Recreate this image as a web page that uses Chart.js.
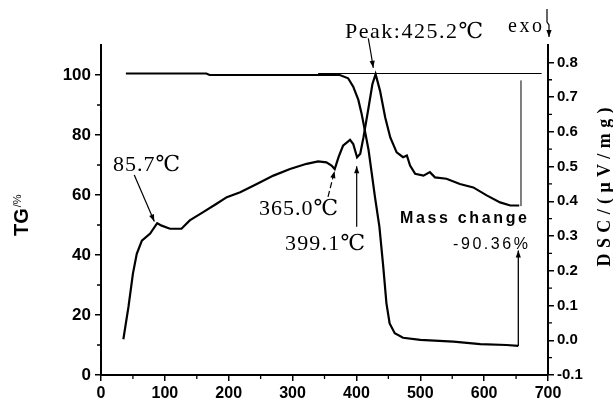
<!DOCTYPE html>
<html><head><meta charset="utf-8">
<script src="https://cdn.jsdelivr.net/npm/chart.js@4.4.0/dist/chart.umd.min.js"></script>
<style>html,body{margin:0;padding:0;background:#fff}canvas{display:block}</style>
</head><body>
<canvas id="c" width="613" height="405" style="width:613px;height:405px"></canvas>
<script>
// ---- data ----
const tgX = [39, 165, 170, 340, 374, 387, 395, 403, 408, 413, 419, 424, 429, 436, 442, 447, 452, 460, 473, 500, 552, 594, 635, 653.5];
const tgY = [100.5, 100.5, 100, 100, 100, 98.9, 96.1, 91.7, 87.2, 81.7, 75, 67.2, 59.4, 49.4, 36.1, 23.9, 17.2, 13.9, 12.4, 11.7, 11.1, 10.3, 10, 9.7];
const dscX = [35, 43, 50, 56, 64, 77, 82, 88, 95, 108, 126, 139, 160, 181, 197, 218, 244, 270, 296, 322, 340, 353, 361, 366, 372, 379, 390, 395, 401, 406, 411, 419, 425, 430, 437, 445, 453, 463, 473, 479, 484, 492, 505, 515, 523, 541, 562, 583, 604, 625, 641, 655];
const dscY = [0.003, 0.096, 0.192, 0.249, 0.287, 0.307, 0.321, 0.337, 0.33, 0.321, 0.321, 0.345, 0.369, 0.393, 0.412, 0.426, 0.45, 0.474, 0.493, 0.508, 0.515, 0.512, 0.503, 0.493, 0.527, 0.56, 0.577, 0.565, 0.527, 0.537, 0.584, 0.67, 0.737, 0.766, 0.718, 0.642, 0.584, 0.541, 0.527, 0.532, 0.503, 0.479, 0.474, 0.484, 0.469, 0.465, 0.45, 0.44, 0.417, 0.397, 0.388, 0.388];
const baseX = [340, 690];
const baseY = [100.5, 100.5];
const xTicks = [0, 100, 200, 300, 400, 500, 600, 700];
const tgTicks = [0, 20, 40, 60, 80, 100];
const dscTicks = [-0.1, 0, 0.1, 0.2, 0.3, 0.4, 0.5, 0.6, 0.7, 0.8];
const xMinor = [50, 150, 250, 350, 450, 550, 650];
const tgMinor = [10, 30, 50, 70, 90];
const dscMinor = [-0.05, 0.05, 0.15, 0.25, 0.35, 0.45, 0.55, 0.65, 0.75];

const SERIF = '"Liberation Serif","DejaVu Serif",serif';
const SANS = '"Liberation Sans",Arial,sans-serif';

function fitText(ctx, text, cx, cy, width, size) {
  const chars = Array.from(text);
  const ws = chars.map(c => ctx.measureText(c).width);
  const total = ws.reduce((a, b) => a + b, 0);
  const gap = chars.length > 1 ? (width - total) / (chars.length - 1) : 0;
  let x = cx - width / 2;
  ctx.textAlign = 'left';
  ctx.textBaseline = 'alphabetic';
  chars.forEach((c, i) => { ctx.fillText(c, x, cy + size * 0.35); x += ws[i] + gap; });
}
function arrowPath(ctx, pts, head, dash) {
  ctx.save();
  ctx.setLineDash(dash || []);
  ctx.beginPath();
  ctx.moveTo(pts[0][0], pts[0][1]);
  for (let i = 1; i < pts.length; i++) ctx.lineTo(pts[i][0], pts[i][1]);
  ctx.stroke();
  ctx.restore();
  if (head) {
    const a = pts[pts.length - 2], b = pts[pts.length - 1];
    const ang = Math.atan2(b[1] - a[1], b[0] - a[0]);
    const L = 7, W = 2.6;
    ctx.beginPath();
    ctx.moveTo(b[0], b[1]);
    ctx.lineTo(b[0] - L * Math.cos(ang) + W * Math.sin(ang), b[1] - L * Math.sin(ang) - W * Math.cos(ang));
    ctx.lineTo(b[0] - L * Math.cos(ang) - W * Math.sin(ang), b[1] - L * Math.sin(ang) + W * Math.cos(ang));
    ctx.closePath();
    ctx.fill();
  }
}

const deco = {
  id: 'deco',
  afterDraw(chart) {
    const ctx = chart.ctx;
    const sx = chart.scales.x, st = chart.scales.yTG, sd = chart.scales.yDSC;
    const P = (x, y) => [sx.getPixelForValue(x), st.getPixelForValue(y)];
    const area = chart.chartArea;
    ctx.save();
    ctx.strokeStyle = '#000'; ctx.fillStyle = '#000';
    // minor ticks
    ctx.lineWidth = 1.3;
    ctx.beginPath();
    xMinor.forEach(v => { const p = sx.getPixelForValue(v); ctx.moveTo(p, area.bottom); ctx.lineTo(p, area.bottom + 4); });
    tgMinor.forEach(v => { const p = st.getPixelForValue(v); ctx.moveTo(area.left, p); ctx.lineTo(area.left - 4, p); });
    dscMinor.forEach(v => { const p = sd.getPixelForValue(v); ctx.moveTo(area.right, p); ctx.lineTo(area.right + 4, p); });
    ctx.stroke();

    // vertical mass-change lines
    ctx.lineWidth = 1;
    arrowPath(ctx, [P(657.7, 98.2), P(657.7, 56.3)], false);
    ctx.lineWidth = 1.3;
    arrowPath(ctx, [P(653.5, 9.7), P(653.5, 41.5)], true);

    // annotation arrows
    ctx.lineWidth = 1.2;
    arrowPath(ctx, [P(418.6, 112.2), P(422.5, 107.5), P(426.4, 102.4)], true);
    arrowPath(ctx, [P(52.1, 66.7), P(83.5, 51.2)], true);
    arrowPath(ctx, [P(355.5, 59.4), P(365.8, 68.0)], true, [6, 3]);
    arrowPath(ctx, [P(400.4, 49.4), P(400.4, 69.6)], true);
    // exo arrow
    arrowPath(ctx, [[547, 9], [547, 22], [549, 25], [549, 37]], true);

    // texts
    const notes = [
      ['Peak:425.2℃', 490.2, 115, 138, 22, SERIF, 'normal'],
      ['exo', 664, 116.7, 34, 20, SERIF, 'normal'],
      ['85.7℃', 71.3, 70.6, 67, 22, SERIF, 'normal'],
      ['365.0℃', 309.3, 55.8, 79, 22, SERIF, 'normal'],
      ['399.1℃', 350.8, 44.2, 80, 22, SERIF, 'normal'],
      ['Mass change', 567.7, 52.7, 127, 16, SANS, 'bold'],
      ['-90.36%', 610, 44, 75, 16, SANS, 'normal']
    ];
    notes.forEach(n => {
      ctx.font = n[6] + ' ' + n[4] + 'px ' + n[5];
      const p = P(n[1], n[2]);
      fitText(ctx, n[0], p[0], p[1], n[3], n[4]);
    });

    // axis titles
    ctx.save();
    ctx.translate(28, 236);
    ctx.rotate(-Math.PI / 2);
    ctx.textAlign = 'left'; ctx.textBaseline = 'alphabetic';
    ctx.font = 'bold 20px ' + SANS;
    ctx.fillText('TG', 0, 0);
    const w = ctx.measureText('TG').width;
    ctx.font = '11px ' + SANS;
    ctx.fillText('/%', w + 1, -7);
    ctx.restore();

    ctx.save();
    ctx.translate(604, 187);
    ctx.rotate(-Math.PI / 2);
    ctx.font = 'bold 18px ' + SERIF;
    fitText(ctx, 'DSC/(μV/mg)', 0, 0, 159, 18);
    ctx.restore();
    ctx.restore();
  }
};

const tickFont = (s) => ({ family: SANS, weight: 'bold', size: s });
const gridCfg = { drawOnChartArea: false, drawTicks: true, tickLength: 6, color: '#000', lineWidth: 1.5 };
const borderCfg = { display: true, color: '#000', width: 2 };

new Chart(document.getElementById('c'), {
  type: 'line',
  data: {
    datasets: [
      { data: tgX.map((x, i) => ({ x, y: tgY[i] })), yAxisID: 'yTG', borderColor: '#000', borderWidth: 2.2, pointRadius: 0, tension: 0 },
      { data: dscX.map((x, i) => ({ x, y: dscY[i] })), yAxisID: 'yDSC', borderColor: '#000', borderWidth: 2.2, pointRadius: 0, tension: 0 },
      { data: baseX.map((x, i) => ({ x, y: baseY[i] })), yAxisID: 'yTG', borderColor: '#000', borderWidth: 1, pointRadius: 0, tension: 0 }
    ]
  },
  options: {
    responsive: false, animation: false, devicePixelRatio: 1,
    layout: { padding: { top: 45, left: 0, right: 0, bottom: 0 } },
    plugins: { legend: { display: false }, tooltip: { enabled: false } },
    scales: {
      x: {
        type: 'linear', min: 0, max: 700,
        afterBuildTicks: s => { s.ticks = xTicks.map(v => ({ value: v })); },
        afterFit: s => { s.height = 30; },
        ticks: { font: tickFont(16), color: '#000', padding: 3, maxRotation: 0, autoSkip: false },
        grid: gridCfg, border: borderCfg
      },
      yTG: {
        type: 'linear', position: 'left', min: 0, max: 110,
        afterBuildTicks: s => { s.ticks = tgTicks.map(v => ({ value: v })); },
        afterFit: s => { s.width = 101; },
        ticks: { font: tickFont(17), color: '#000', padding: 4, autoSkip: false },
        grid: gridCfg, border: borderCfg
      },
      yDSC: {
        type: 'linear', position: 'right', min: -0.1, max: 0.85,
        afterBuildTicks: s => { s.ticks = dscTicks.map(v => ({ value: v })); },
        afterFit: s => { s.width = 65; },
        ticks: { font: tickFont(15), color: '#000', padding: 3, autoSkip: false, callback: v => Number(v).toFixed(1) },
        grid: gridCfg, border: borderCfg
      }
    }
  },
  plugins: [deco]
});
</script>
</body></html>
